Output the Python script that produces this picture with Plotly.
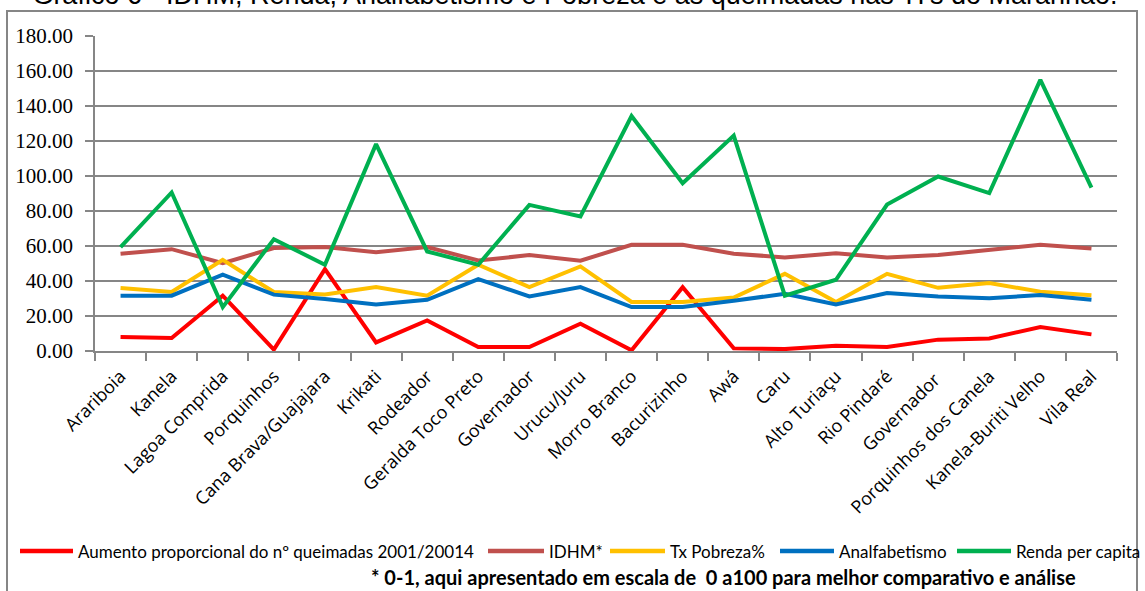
import plotly.graph_objects as go

categories = ["Arariboia", "Kanela", "Lagoa Comprida", "Porquinhos", "Cana Brava/Guajajara",
              "Krikati", "Rodeador", "Geralda Toco Preto", "Governador", "Urucu/Juru",
              "Morro Branco", "Bacurizinho", "Awá", "Caru", "Alto Turiaçu", "Rio Pindaré",
              "Governador ", "Porquinhos dos Canela", "Kanela-Buriti Velho", "Vila Real"]

aumento_queimadas = [8.0, 7.4, 31.6, 0.8, 46.8, 4.9, 17.5, 2.3, 2.3, 15.6,
                     0.4, 36.5, 1.5, 1.1, 3.0, 2.3, 6.5, 7.2, 13.7, 9.5]
idhm = [55.6, 58.2, 50.2, 58.8, 59.4, 56.5, 59.4, 51.7, 54.8, 51.6,
        60.7, 60.7, 55.6, 53.5, 55.9, 53.5, 54.8, 57.8, 60.7, 58.6]
tx_pobreza = [36.0, 33.7, 52.1, 33.7, 32.3, 36.5, 31.6, 49.3, 36.5, 48.3,
              28.0, 28.0, 30.6, 44.1, 28.0, 44.1, 36.1, 38.8, 33.9, 31.8]
analfabetismo = [31.6, 31.6, 43.6, 32.2, 29.7, 26.6, 29.3, 41.1, 31.2, 36.5,
                 25.1, 25.1, 28.7, 32.7, 26.6, 33.1, 31.2, 30.1, 32.0, 29.3]
renda = [59.4, 90.6, 25.1, 63.9, 49.3, 118.2, 56.9, 49.3, 83.5, 76.9,
         134.3, 95.9, 123.1, 31.6, 40.7, 83.7, 99.7, 90.2, 154.9, 93.4]

series_names = ["Aumento proporcional do nº queimadas 2001/20014", "IDHM*", "Tx Pobreza%",
                "Analfabetismo", "Renda per capita"]
y_ticks = [0, 20, 40, 60, 80, 100, 120, 140, 160, 180]
y_tick_labels = ["0.00", "20.00", "40.00", "60.00", "80.00", "100.00", "120.00", "140.00", "160.00", "180.00"]

title_text = "Gráfico 6 - IDHM, Renda, Analfabetismo e Pobreza e as queimadas nas TI's do Maranhão."
footnote_text = "* 0-1, aqui apresentado em escala de  0 a100 para melhor comparativo e análise"

colors = ["#FF0000", "#C0504D", "#FFC000", "#0070C0", "#00B050"]
all_series = [aumento_queimadas, idhm, tx_pobreza, analfabetismo, renda]

W, H = 1145, 591
ML, MR, MT, MB = 95, 28, 36, 240
PW, PH = W - ML - MR, H - MT - MB


def px(x):
    return (x - ML) / PW


def py(y):
    return (H - MB - y) / PH


fig = go.Figure()
for name, vals, col in zip(series_names, all_series, colors):
    fig.add_trace(go.Scatter(x=categories, y=vals, mode="lines", name=name,
                             line=dict(color=col, width=4), showlegend=False))

grid = "#868686"
fig.update_layout(
    width=W, height=H,
    margin=dict(l=ML, r=MR, t=MT, b=MB, pad=0, autoexpand=False),
    paper_bgcolor="white", plot_bgcolor="white",
    title=dict(text=title_text, x=575 / W, xanchor="center", xref="container",
               y=1 - 4 / H, yanchor="bottom", yref="container",
               font=dict(family="Liberation Sans", size=27, color="#000")),
    xaxis=dict(type="category", range=[-0.5, 19.5], tickangle=-45,
               showgrid=False, showline=True, linecolor=grid, linewidth=1.5,
               ticks="outside", ticklen=8, tickcolor=grid, tickwidth=1.5,
               tickson="boundaries", automargin=False, ticklabelstandoff=6,
               tickfont=dict(family="Open Sans", size=18, color="#000")),
    yaxis=dict(range=[0, 180], tickvals=y_ticks, ticktext=y_tick_labels,
               showgrid=True, gridcolor=grid, gridwidth=1.5,
               showline=True, linecolor=grid, linewidth=1.5,
               ticks="outside", ticklen=8, tickcolor=grid, tickwidth=1.5,
               zeroline=False, ticklabelstandoff=8, automargin=False,
               tickfont=dict(family="Liberation Serif", size=21, color="#000")),
    showlegend=False,
)

shapes = []
annotations = []
# outer frame
shapes.append(dict(type="rect", xref="paper", yref="paper",
                   x0=px(7), x1=px(1137), y0=py(620), y1=py(11),
                   line=dict(color=grid, width=2), fillcolor="rgba(0,0,0,0)", layer="below"))

# legend
leg_y = 551
leg_lines = [(20, 73), (488, 544), (610, 665), (780, 834), (957, 1011)]
for (x0, x1), name, col in zip(leg_lines, series_names, colors):
    shapes.append(dict(type="line", xref="paper", yref="paper", x0=px(x0), x1=px(x1),
                       y0=py(leg_y), y1=py(leg_y), line=dict(color=col, width=4.5)))
    annotations.append(dict(text=name, xref="paper", yref="paper", x=px(x1 + 3), y=py(leg_y),
                            xanchor="left", yanchor="middle", showarrow=False,
                            font=dict(family="Lato", size=17, color="#000")))

annotations.append(dict(text=footnote_text, xref="paper", yref="paper", x=px(369), y=py(577),
                        xanchor="left", yanchor="middle", showarrow=False,
                        font=dict(family="Lato", size=20, color="#000", weight="bold")))

fig.update_layout(shapes=shapes, annotations=annotations)
fig.write_html("out.html", config={"displayModeBar": False},
               post_script="document.body.style.margin='0';document.body.style.padding='0';")
